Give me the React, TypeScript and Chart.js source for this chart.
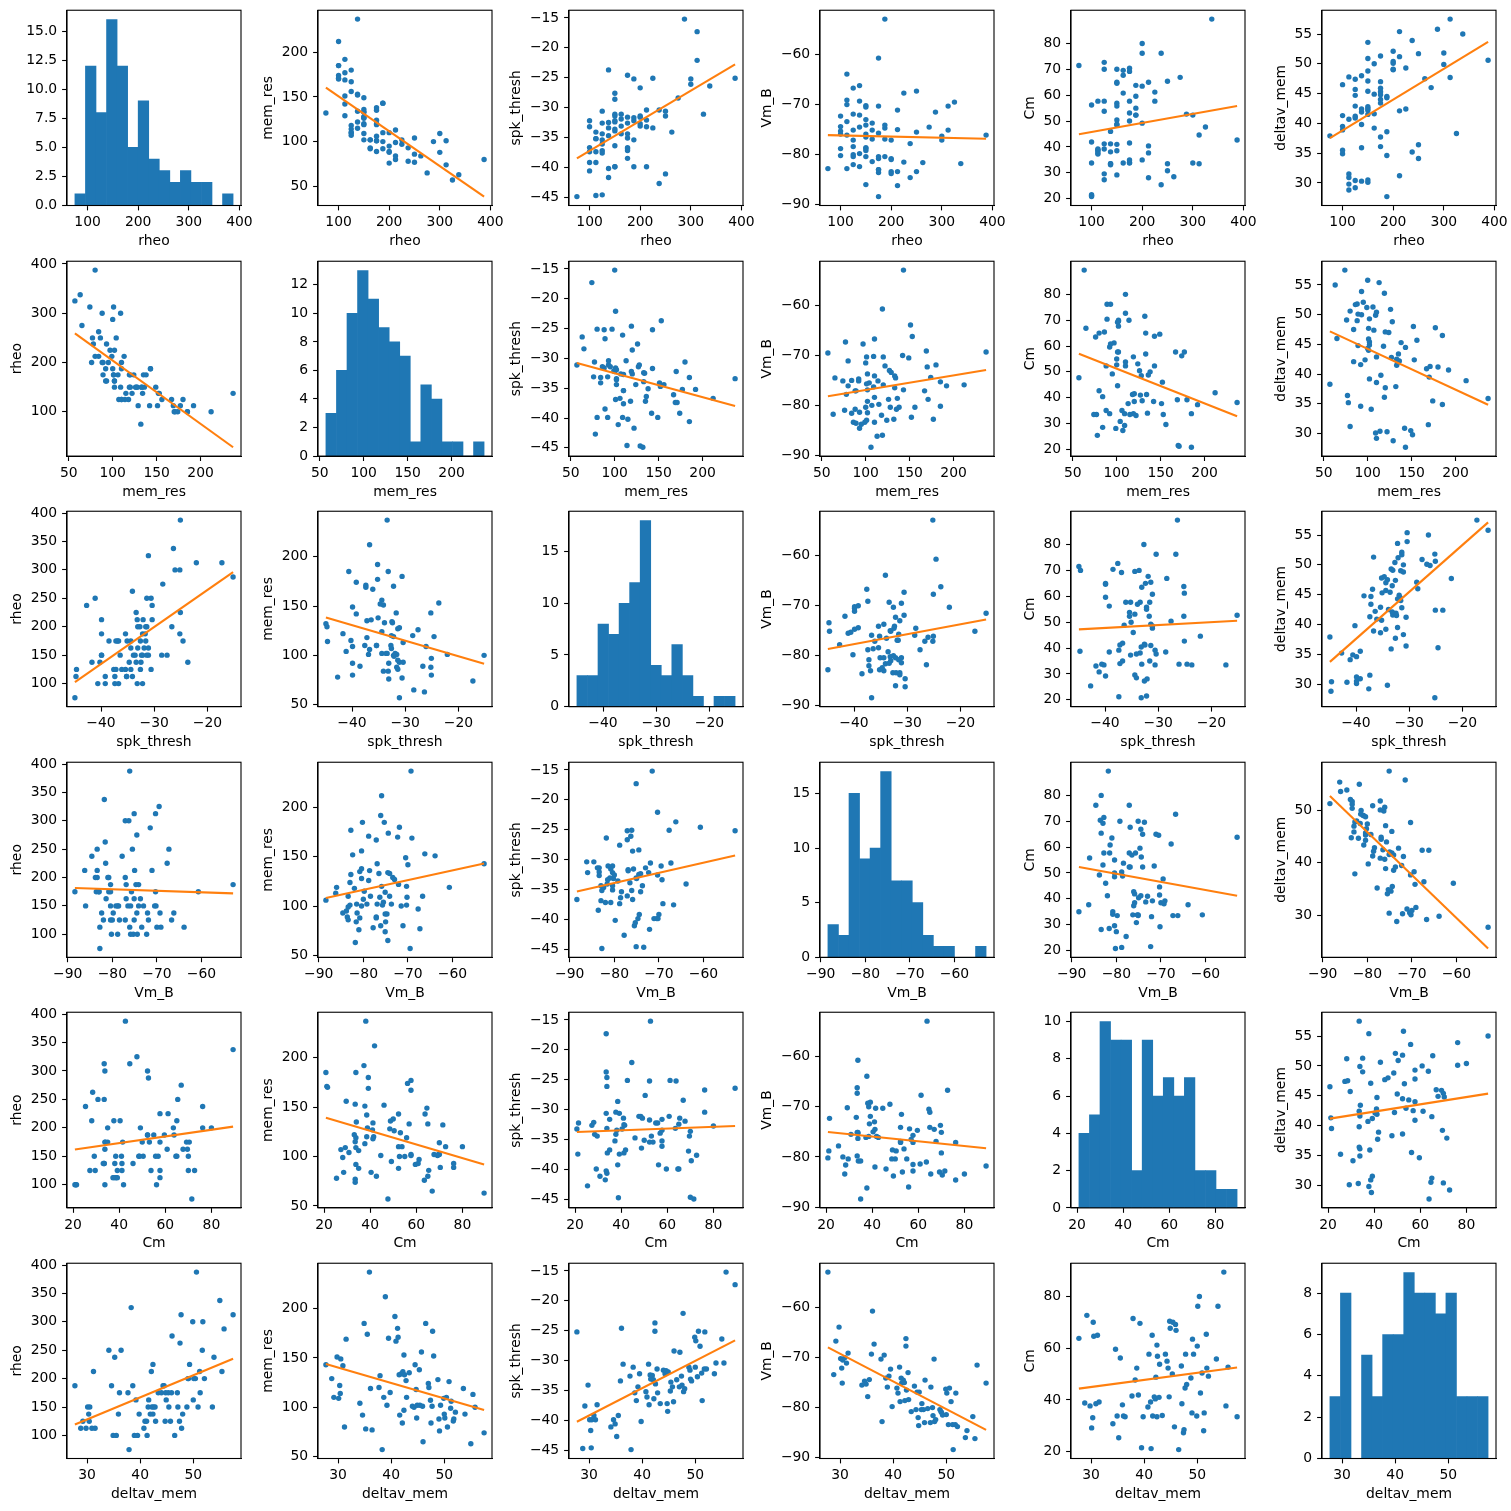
import React, { useEffect, useMemo, useRef } from 'react';
import { Chart, registerables } from 'chart.js';

Chart.register(...registerables);

// ---------------- data (one entry per cell) ----------------
const rheo = [
  187.5, 112.5, 125, 112.5, 150, 137.5, 125, 150, 112.5, 212.5, 112.5,
  250, 187.5, 100, 237.5, 100, 137.5, 175, 250,
  175, 75, 325, 187.5, 100, 162.5, 100, 137.5, 112.5, 125, 125, 100, 150, 162.5,
  137.5, 212.5, 150, 137.5, 225, 150, 150, 125, 175,
  175, 187.5, 187.5, 125, 175, 162.5, 175, 150, 125, 175, 275, 100, 175, 150, 125, 262.5,
  312.5, 112.5, 137.5, 150, 200, 200, 225,
  300, 162.5, 200, 200, 387.5, 150, 212.5, 175,
  250, 300, 200,
  150, 237.5, 337.5, 212.5, 287.5, 312.5,
];
const mem_res = [
  143, 129, 110, 151, 109, 122, 114, 149, 142, 80, 169,
  104, 92, 185, 78, 174, 237, 119, 77,
  120, 132, 57, 110, 212, 102, 170, 115, 192, 167, 180, 171, 133, 92,
  134, 84, 136, 153, 97, 133, 127, 110, 135,
  101, 100, 143, 118, 89, 102, 138, 102, 156, 101, 65, 185, 124, 120, 107, 84,
  101, 177, 152, 128, 88, 76, 102,
  109, 93, 89, 110, 80, 126, 99, 106,
  86, 88, 95,
  119, 93, 63, 113, 100, 74,
];
const spk_thresh = [
  -25.2, -44.7, -37.6, -34.1, -39.9, -41.7, -44.6, -39.9, -39.2, -39.9, -37.4,
  -41.1, -39.9, -40.6, -42.7, -39.2, -33.4, -24.6, -30.6,
  -32.6, -44.9, -31.1, -35.4, -36.7, -34.4, -32.2, -40.2, -35.2, -36.1, -30.6, -37.4, -32.4, -33.1,
  -32.5, -33.2, -36.4, -23.7, -25.1, -33.9, -31.4, -35.4, -37.2,
  -31.6, -32.2, -31.7, -37.2, -38.5, -31.9, -35.1, -33.6, -34.4, -36.9, -28.4, -33.2, -34.4, -28.6, -32.6, -34.1,
  -22.1, -35.2, -34.7, -31.1, -31.6, -33.1, -33.4,
  -26.1, -31.1, -26.7, -32.7, -25.1, -27.6, -32.1, -36.7,
  -31.4, -25.2, -31.4,
  -32.2, -30.4, -26.4, -30.4, -15.2, -17.3,
];
const Vm_B = [
  -52.9, -73.4, -66.7, -63.9, -70.2, -72.1, -75.1, -70.5, -70.0, -71.1, -69.1,
  -75.5, -74.7, -75.3, -77.8, -74.4, -69.3, -60.7, -67.3,
  -70.3, -82.8, -69.5, -74.1, -75.9, -73.7, -72.3, -79.8, -76.1, -77.1, -71.9, -78.8, -74.1, -75.1,
  -74.5, -75.0, -78.6, -66.2, -67.7, -76.5, -73.0, -78.4, -80.8,
  -75.7, -80.4, -76.9, -82.0, -83.6, -76.9, -80.4, -79.2, -80.4, -83.0, -74.5, -80.2, -83.0, -75.9, -80.0, -81.6,
  -70.3, -82.8, -82.4, -80.4, -80.8, -81.0, -81.5,
  -76.3, -81.4, -77.1, -83.4, -76.1, -78.8, -83.4, -88.4,
  -83.4, -77.1, -83.8,
  -86.0, -84.6, -81.8, -86.2, -71.5, -75.1,
];
const Cm = [
  63.8, 38.8, 72.7, 37.7, 29.2, 33.1, 70.0, 64.6, 38.5, 65.0, 39.2,
  30.8, 59.6, 33.8, 25.4, 56.2, 38.1, 33.8, 33.5,
  41.5, 71.5, 47.7, 52.3, 41.9, 69.6, 21.5, 33.5, 37.3, 57.7, 39.2, 21.2, 65.0, 33.8,
  41.2, 40.4, 48.8, 33.5, 61.2, 56.9, 41.0, 53.8, 34.0,
  57.7, 55.0, 52.3, 41.2, 70.4, 67.7, 50.0, 70.0, 29.6, 69.2, 66.9, 20.8, 53.1, 38.5, 27.3, 28.5,
  44.6, 57.7, 46.0, 48.5, 35.0, 63.5, 57.7,
  33.8, 60.8, 76.2, 80.0, 42.7, 50.4, 28.1, 35.0,
  65.4, 52.3, 49.2,
  55.8, 76.2, 89.4, 37.7, 52.7, 33.5,
];
const deltav_mem = [
  27.7, 28.8, 29.2, 29.8, 30.1, 30.3, 30.4, 30.5, 30.9, 31.2, 31.5,
  34.1, 34.6, 34.9, 35.2, 35.5, 35.9, 36.1, 36.4,
  37.7, 37.9, 38.3, 38.6, 38.9, 39.2, 39.5, 39.8, 40.7, 40.9, 41.2, 41.3, 41.5, 41.6,
  41.9, 42.1, 42.2, 42.4, 42.4, 42.5, 42.8, 42.9, 43.4,
  44.0, 44.3, 44.5, 44.7, 44.8, 44.9, 45.3, 45.4, 45.7, 45.9, 46.0, 46.5, 47.0, 47.1, 47.4, 47.5,
  47.7, 47.8, 48.0, 48.8, 49.0, 49.1, 49.3,
  49.9, 50.0, 50.1, 50.4, 50.6, 50.9, 51.2, 51.3,
  51.7, 51.8, 52.1,
  53.6, 53.9, 55.0, 55.4, 55.8, 57.5,
];

// histogram bar heights (15 bins between min and max of each variable)
const rheoCounts = [1, 12, 8, 16, 12, 5, 9, 4, 3, 2, 3, 2, 2, 0, 1];
const memCounts = [3, 6, 10, 13, 11, 9, 8, 7, 1, 5, 4, 1, 1, 0, 1];
const spkCounts = [3, 3, 8, 7, 10, 12, 18, 4, 3, 6, 3, 1, 0, 1, 1];
const vmCounts = [3, 2, 15, 9, 10, 17, 7, 7, 5, 2, 1, 1, 0, 0, 1];
const cmCounts = [4, 5, 10, 9, 9, 2, 9, 6, 7, 6, 7, 2, 2, 1, 1];
const dvCounts = [3, 8, 0, 5, 3, 6, 6, 9, 8, 8, 7, 8, 3, 3, 3];

// tick labels
const rheoTicksX = [100, 200, 300, 400];
const rheoTicksY = [100, 150, 200, 250, 300, 350, 400];
const rheoTicksYWide = [100, 200, 300, 400];
const memTicks = [50, 100, 150, 200];
const spkTicksX = [-40, -30, -20];
const spkTicksY = [-45, -40, -35, -30, -25, -20, -15];
const vmTicks = [-90, -80, -70, -60];
const cmTicksX = [20, 40, 60, 80];
const cmTicksY = [20, 30, 40, 50, 60, 70, 80];
const dvTicksX = [30, 40, 50];
const dvTicksY = [30, 35, 40, 45, 50, 55];
const rheoHistTicks = [0, 2.5, 5, 7.5, 10, 12.5, 15];
const memHistTicks = [0, 2, 4, 6, 8, 10, 12];
const spkHistTicks = [0, 5, 10, 15];
const vmHistTicks = [0, 5, 10, 15];
const cmHistTicks = [0, 2, 4, 6, 8, 10];
const dvHistTicks = [0, 2, 4, 6, 8];

const varNames = ['rheo', 'mem_res', 'spk_thresh', 'Vm_B', 'Cm', 'deltav_mem'];
const columns = [rheo, mem_res, spk_thresh, Vm_B, Cm, deltav_mem];
const histCounts = [rheoCounts, memCounts, spkCounts, vmCounts, cmCounts, dvCounts];
const xTicksByVar = [rheoTicksX, memTicks, spkTicksX, vmTicks, cmTicksX, dvTicksX];
const yTicksByVar = [rheoTicksY, memTicks, spkTicksY, vmTicks, cmTicksY, dvTicksY];
const histTicksByVar = [rheoHistTicks, memHistTicks, spkHistTicks, vmHistTicks, cmHistTicks, dvHistTicks];
const histDecimals = [1, 0, 0, 0, 0, 0];

// ---------------- layout & style ----------------
const FONT_FAMILY = 'DejaVu Sans';
const FONT_SIZE = 13.9;
const LINE_H = FONT_SIZE * 1.2;
const BLUE = '#1f77b4';
const ORANGE = '#ff7f0e';

const AX_LEFT0 = 67;
const AX_STEP_X = 251;
const AX_W = 174;
const AX_TOP0 = 9.5;
const AX_STEP_Y = 250.6;
const AX_H = 196;
const PAD_TOP = 12;
const PAD_RIGHT = 24;
const X_AXIS_H = 44.3;
const TICK_LEN = 4.9;
const X_TICK_PAD = 3.8;
const Y_TICK_PAD = 4.9;
const YLABEL_GAP = 12.6;

function fmt(v: number, dec: number): string {
  const s = Math.abs(v).toFixed(dec);
  const neg = v < 0 && parseFloat(s) !== 0;
  return (neg ? '\u2212' : '') + s;
}

let measureCtx: CanvasRenderingContext2D | null = null;
function textWidth(t: string): number {
  if (!measureCtx) measureCtx = document.createElement('canvas').getContext('2d');
  measureCtx!.font = `${FONT_SIZE}px "${FONT_FAMILY}"`;
  return measureCtx!.measureText(t).width;
}

function padRange(lo: number, hi: number): [number, number] {
  const d = hi - lo;
  return [lo - 0.05 * d, hi + 0.05 * d];
}

function linFit(xs: number[], ys: number[]): [number, number] {
  const n = xs.length;
  let mx = 0, my = 0;
  for (let i = 0; i < n; i++) { mx += xs[i]; my += ys[i]; }
  mx /= n; my /= n;
  let sxy = 0, sxx = 0;
  for (let i = 0; i < n; i++) { sxy += (xs[i] - mx) * (ys[i] - my); sxx += (xs[i] - mx) ** 2; }
  const b = sxy / sxx;
  return [my - b * mx, b];
}

const framePlugin = {
  id: 'frameBox',
  afterDatasetsDraw(chart: any) {
    const { ctx, chartArea: a } = chart;
    ctx.save();
    ctx.strokeStyle = '#000';
    ctx.lineWidth = 1.1;
    ctx.strokeRect(a.left, a.top, a.right - a.left, a.bottom - a.top);
    ctx.restore();
  },
};

function scaleOpts(axis: 'x' | 'y', min: number, max: number, ticks: number[], dec: number,
  title: string | null, size: number) {
  const shown = ticks.filter((v) => v >= min - 1e-9 && v <= max + 1e-9);
  const font = { family: FONT_FAMILY, size: FONT_SIZE };
  return {
    type: 'linear',
    position: axis === 'x' ? 'bottom' : 'left',
    min,
    max,
    offset: false,
    afterBuildTicks: (s: any) => { s.ticks = shown.map((v) => ({ value: v })); },
    afterFit: (s: any) => { if (axis === 'x') s.height = size; else s.width = size; },
    ticks: {
      autoSkip: false,
      maxRotation: 0,
      minRotation: 0,
      padding: axis === 'x' ? X_TICK_PAD : Y_TICK_PAD,
      color: '#000',
      font,
      callback: (v: any) => fmt(Number(v), dec),
    },
    grid: {
      display: true,
      offset: false,
      drawOnChartArea: false,
      drawTicks: true,
      tickLength: TICK_LEN,
      tickWidth: 1.1,
      tickColor: '#000',
      color: '#000',
    },
    border: { display: true, color: '#000', width: 1.1 },
    title: title
      ? { display: true, text: title, color: '#000', font, padding: { top: 0, bottom: 0 } }
      : { display: false },
  };
}

function yTicksFor(r: number, c: number): number[] {
  if (r === c) return histTicksByVar[c];
  if (r === 1 && c === 0) return rheoTicksYWide;
  if (r === 5 && c === 4) return cmTicksX;
  if (r === 3 && c === 5) return dvTicksX;
  return yTicksByVar[c];
}

function buildPanel(r: number, c: number) {
  const axLeft = AX_LEFT0 + c * AX_STEP_X;
  const axTop = AX_TOP0 + r * AX_STEP_Y;
  const xs = columns[r];
  const xTicks = xTicksByVar[r];
  const yTicks = yTicksFor(r, c);

  let xmin: number, xmax: number, ymin: number, ymax: number;
  let datasets: any[];
  let type: string;
  let yDec = 0;

  if (r === c) {
    const lo = Math.min(...xs), hi = Math.max(...xs);
    const counts = histCounts[r];
    const bw = (hi - lo) / counts.length;
    [xmin, xmax] = padRange(lo, hi);
    ymin = 0;
    ymax = Math.max(...counts) * 1.05;
    yDec = histDecimals[r];
    type = 'bar';
    datasets = [{
      type: 'bar',
      data: counts.map((n, i) => ({ x: lo + bw * (i + 0.5), y: n })),
      backgroundColor: BLUE,
      borderWidth: 0,
      barPercentage: 1,
      categoryPercentage: 1,
      grouped: false,
    }];
  } else {
    const ys = columns[c];
    const [a, b] = linFit(xs, ys);
    const lx0 = Math.min(...xs), lx1 = Math.max(...xs);
    const ly0 = a + b * lx0, ly1 = a + b * lx1;
    [xmin, xmax] = padRange(lx0, lx1);
    [ymin, ymax] = padRange(Math.min(...ys, ly0, ly1), Math.max(...ys, ly0, ly1));
    type = 'scatter';
    datasets = [
      {
        type: 'scatter',
        data: [{ x: lx0, y: ly0 }, { x: lx1, y: ly1 }],
        showLine: true,
        borderColor: ORANGE,
        borderWidth: 2.1,
        pointRadius: 0,
        pointHoverRadius: 0,
        fill: false,
      },
      {
        type: 'scatter',
        data: xs.map((x, i) => ({ x, y: ys[i] })),
        backgroundColor: BLUE,
        borderWidth: 0,
        pointRadius: 2.7,
        pointHoverRadius: 2.7,
      },
    ];
  }

  const shownY = yTicks.filter((v) => v >= ymin - 1e-9 && v <= ymax + 1e-9);
  const tlw = Math.max(...shownY.map((v) => textWidth(fmt(v, yDec))));
  const hasYTitle = r !== c;
  const ywWanted = TICK_LEN + Y_TICK_PAD + tlw + (hasYTitle ? YLABEL_GAP + LINE_H / 2 : 4);

  const canvasLeft = Math.floor(axLeft - ywWanted);
  const yw = axLeft - canvasLeft;
  const canvasTop = Math.floor(axTop - PAD_TOP);
  const padTop = axTop - canvasTop;
  const width = Math.ceil(yw + AX_W + PAD_RIGHT);
  const padRight = width - yw - AX_W;
  const height = Math.ceil(padTop + AX_H + X_AXIS_H);
  const padBottom = height - padTop - AX_H - X_AXIS_H;

  const config: any = {
    type,
    data: { datasets },
    options: {
      responsive: false,
      maintainAspectRatio: false,
      animation: false,
      events: [],
      layout: { padding: { top: padTop, right: padRight, bottom: padBottom, left: 0 } },
      plugins: { legend: { display: false }, tooltip: { enabled: false } },
      scales: {
        x: scaleOpts('x', xmin, xmax, xTicks, 0, varNames[r], X_AXIS_H),
        y: scaleOpts('y', ymin, ymax, yTicks, yDec, hasYTitle ? varNames[c] : null, yw),
      },
    },
    plugins: [framePlugin],
  };

  return { config, left: canvasLeft, top: canvasTop, width, height };
}

function Panel({ r, c }: { r: number; c: number }) {
  const ref = useRef<HTMLCanvasElement>(null);
  const spec = useMemo(() => buildPanel(r, c), [r, c]);
  useEffect(() => {
    const chart = new Chart(ref.current as HTMLCanvasElement, spec.config);
    return () => chart.destroy();
  }, [spec]);
  return (
    <canvas
      ref={ref}
      width={spec.width}
      height={spec.height}
      style={{ position: 'absolute', left: spec.left, top: spec.top, width: spec.width, height: spec.height }}
    />
  );
}

export default function App() {
  const cells: React.ReactNode[] = [];
  for (let r = 0; r < 6; r++) {
    for (let c = 0; c < 6; c++) {
      cells.push(<Panel key={`${r}-${c}`} r={r} c={c} />);
    }
  }
  return (
    <div style={{ position: 'absolute', left: 0, top: 0, width: 1511, height: 1511, background: '#fff' }}>
      {cells}
    </div>
  );
}
